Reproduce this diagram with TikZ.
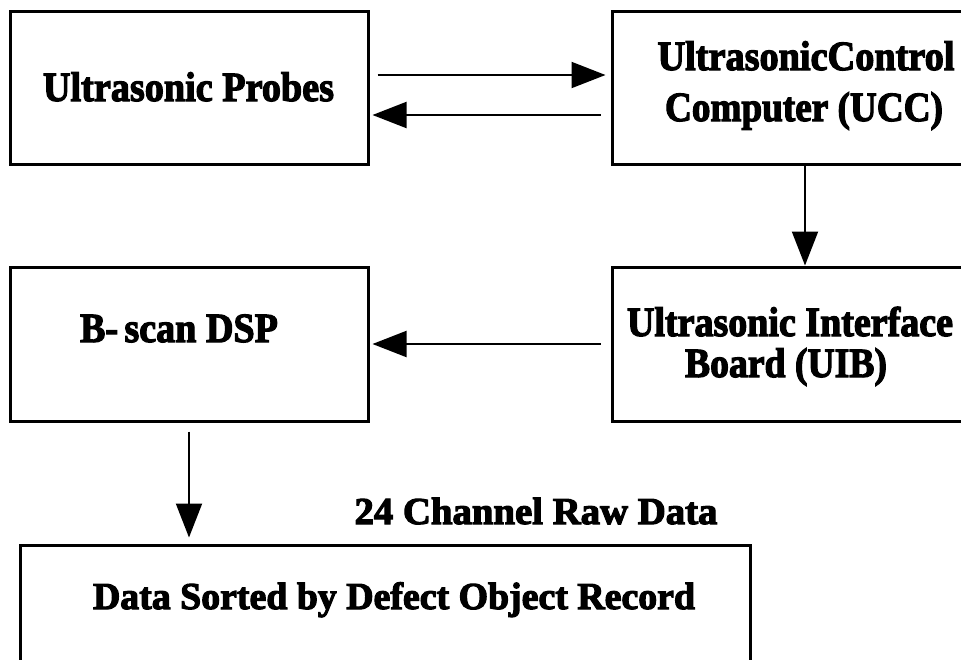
\documentclass[tikz,border=0pt]{standalone}
\usepackage{fontspec}
\setmainfont{Liberation Serif}
\newfontfamily\heavyserif[FakeBold=3]{Liberation Serif Bold}
\usetikzlibrary{arrows.meta,calc}
% set one line of text at its natural height, squeezed to a given width
\newcommand{\fitline}[2]{\resizebox{#1}{\height}{#2}}

\begin{document}
\begin{tikzpicture}[x=1pt,y=-1pt,
  block/.style={draw, line width=3pt, rectangle, inner sep=0pt},
  label/.style={inner sep=0pt, anchor=base, font=\heavyserif\fontsize{41.5}{44}\selectfont},
  smalllabel/.style={inner sep=0pt, anchor=base, font=\heavyserif\fontsize{38}{40}\selectfont},
  flow/.style={line width=2pt, -{Triangle[length=34pt,width=26pt]}}]
  \useasboundingbox (0,0) rectangle (961,659);
  \clip (0,0) rectangle (961,659);

  % blocks
  \node[block, minimum width=358pt, minimum height=153pt] (probes) at (189,87.5) {};
  \node[block, minimum width=386pt, minimum height=153pt] (ucc) at (805,87.5) {};
  \node[block, minimum width=358pt, minimum height=154pt] (dsp) at (189,344) {};
  \node[block, minimum width=386pt, minimum height=154pt] (uib) at (805,344) {};
  \node[block, minimum width=730pt, minimum height=175pt] (rec) at (385,632.5) {};

  % block texts
  \node[label] (tprobes) at (188.5,101) {\fitline{291pt}{Ultrasonic Probes}};
  \node[label] (tucca) at (806,70) {\fitline{297pt}{UltrasonicControl}};
  \node[label] (tuccb) at (804,121) {\fitline{278pt}{Computer (UCC)}};
  \node[label] (tdsp) at (179,342) {\fitline{198pt}{B-\,scan DSP}};
  \node[label] (tuiba) at (790,336) {\fitline{326pt}{Ultrasonic Interface}};
  \node[label] (tuibb) at (786,377) {\fitline{202pt}{Board (UIB)}};
  \node[smalllabel] (traw) at (536,524) {\fitline{363pt}{24 Channel Raw Data}};
  \node[smalllabel] (trec) at (394,609) {\fitline{602pt}{Data Sorted by Defect Object Record}};

  % connectors
  \draw[flow] ([xshift=8pt,yshift=12.5pt]probes.east) -- ([xshift=-5pt,yshift=12.5pt]ucc.west);
  \draw[flow] ([xshift=-10pt,yshift=-27.5pt]ucc.west) -- ([xshift=3pt,yshift=-27.5pt]probes.east);
  \draw[flow] (ucc.south) -- (uib.north);
  \draw[flow] ([xshift=-10pt]uib.west) -- ([xshift=3pt]dsp.east);
  \draw[flow] ([yshift=-9pt]dsp.south) -- ([yshift=6pt]dsp.south |- rec.north);
\end{tikzpicture}
\end{document}
